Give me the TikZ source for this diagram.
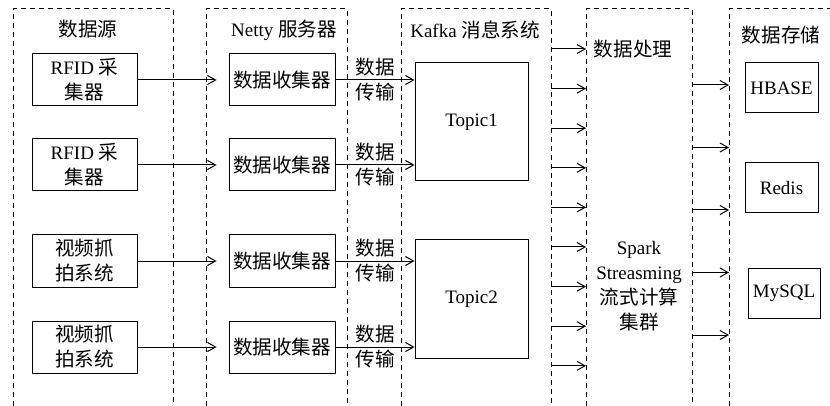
\documentclass[tikz,border=0pt]{standalone}
\usepackage{fontspec}
\setmainfont{Liberation Serif}
\newfontfamily\cjk[Scale=1.03]{Noto Sans CJK SC}
\usetikzlibrary{arrows.meta,positioning,calc}
\tikzset{
  >={Straight Barb[length=8pt,width=9pt]},
  lane/.style    ={draw=none,inner sep=0pt,outer sep=0pt,
                   minimum width=#1,minimum height=397pt},
  lanedash/.style={draw=black,line width=1pt,dash pattern=on 5pt off 4pt},
  box/.style     ={draw=black,line width=1pt,align=center,inner sep=2pt,
                   minimum width=105pt,minimum height=52pt},
  topic/.style   ={draw=black,line width=1pt,minimum width=113pt,
                   minimum height=118pt},
  store/.style   ={draw=black,line width=1pt,minimum width=73pt,
                   minimum height=50pt},
  lbl/.style     ={align=center,inner sep=1pt},
  flow/.style    ={->,draw=black,line width=1pt},
}

\begin{document}
\begin{tikzpicture}[x=1pt,y=-1pt,font=\fontsize{19}{25}\selectfont]
\useasboundingbox (0,0) rectangle (830,406);

% lanes
\node[lane=160pt] (srcL)   at (93,207.5)    {};
\node[lane=141pt] (nettyL) at (276.5,207.5) {};
\node[lane=150pt] (kafkaL) at (476,207.5)   {};
\node[lane=106pt] (sparkL) at (639,207.5)   {};
\node[lane=101pt] (storeL) at (779.5,207.5) {};
\foreach \l in {srcL,nettyL,kafkaL,sparkL}
  \draw[lanedash] (\l.south west) |- (\l.north east) -- (\l.south east);
\draw[lanedash] (storeL.south west) |- (storeL.north east);

% lane titles
\node[lbl] (srcT)   at (88,29)   {{\cjk 数据源}};
\node[lbl] (nettyT) at (284,30)  {Netty {\cjk 服务器}};
\node[lbl] (kafkaT) at (475,30)  {Kafka {\cjk 消息系统}};
\node[lbl] (sparkT) at (633,49)  {{\cjk 数据处理}};
\node[lbl] (storeT) at (781,35)  {{\cjk 数据存储}};

%================= sources -> collectors -> topics
\foreach \i/\y/\txt in {1/80/{RFID {\cjk 采}\\{\cjk 集器}},
                        2/165/{RFID {\cjk 采}\\{\cjk 集器}},
                        3/261/{{\cjk 视频抓}\\{\cjk 拍系统}},
                        4/347/{{\cjk 视频抓}\\{\cjk 拍系统}}}
 {\node[box] (s\i) at (84.5,\y) {\txt};
  \node[box,minimum width=106pt] (c\i) at (282,\y) {{\cjk 数据收集器}};}

\node[topic] (t1) at (471.5,122) {Topic1};
\node[topic] (t2) at (471.5,299) {Topic2};

\foreach \i/\t in {1/t1,2/t1,3/t2,4/t2}
 {\draw[flow,shorten >=12pt] (s\i.east) -- (c\i.west);
  \draw[flow] (c\i.east) -- (c\i.east -| \t.west)
    node[lbl,midway] {{\cjk 数据}\\{\cjk 传输}};}

%================= kafka -> spark
\foreach \k in {0,...,8}
  \draw[flow] (kafkaL.east |- 0,49+39.6*\k) -- (sparkL.west |- 0,49+39.6*\k);

\node[lbl] (spark) at (639,286) {Spark\\Streasming\\{\cjk 流式计算}\\{\cjk 集群}};

%================= spark -> storage
\foreach \k in {0,...,4}
  \draw[flow] (sparkL.east |- 0,85+62.5*\k) -- (storeL.west |- 0,85+62.5*\k);

\node[store] (hbase) at (781.5,88)  {HBASE};
\node[store] (redis) at (781.5,188) {Redis};
\node[store,minimum width=72pt] (mysql) at (784,293) {MySQL};
\end{tikzpicture}
\end{document}
